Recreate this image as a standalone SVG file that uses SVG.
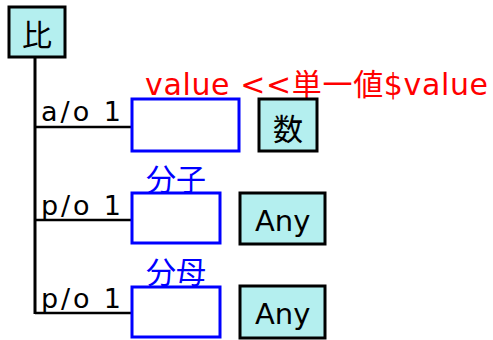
<svg xmlns="http://www.w3.org/2000/svg" width="493" height="340" viewBox="0 0 493 340">
<style>
.cls{fill:#b4efef;stroke:#000;stroke-width:3}
.slot{fill:#fff;stroke:#0000ff;stroke-width:3}
.t{font-family:"DejaVu Sans","Noto Sans CJK JP",sans-serif;fill:#000}
.cjk{font-family:"Noto Sans CJK JP",sans-serif}
.blue{fill:#0000ff}
.red{fill:#ff0000}
.ln{stroke:#000;fill:none}
</style>
<rect width="493" height="340" fill="#fff"/>
<g id="connectors">
<line class="ln" x1="35" y1="57" x2="35" y2="314" stroke-width="3"/>
<line class="ln" x1="35" y1="127" x2="132" y2="127" stroke-width="2.5"/>
<line class="ln" x1="35" y1="220" x2="132" y2="220" stroke-width="2.5"/>
<line class="ln" x1="35" y1="313" x2="132" y2="313" stroke-width="2.5"/>
<text class="t" x="41" y="121" font-size="27" textLength="80" lengthAdjust="spacing">a/o 1</text>
<text class="t" x="41" y="215" font-size="27" textLength="80" lengthAdjust="spacing">p/o 1</text>
<text class="t" x="41" y="308" font-size="27" textLength="80" lengthAdjust="spacing">p/o 1</text>
</g>
<g id="node-hi">
<rect class="cls" x="9" y="7" width="56" height="50"/>
<text class="t cjk" x="37" y="46" font-size="30" text-anchor="middle">比</text>
</g>
<g id="node-value">
<rect class="slot" x="132" y="99" width="107" height="52"/>
<text class="t red" x="145" y="95" font-size="30" textLength="343" lengthAdjust="spacing">value &lt;&lt;単一値$value</text>
</g>
<g id="node-kazu">
<rect class="cls" x="259" y="99" width="58" height="52"/>
<text class="t cjk" x="288" y="140" font-size="30" text-anchor="middle">数</text>
</g>
<g id="node-bunshi">
<rect class="slot" x="132" y="193" width="88" height="50"/>
<text class="t cjk blue" x="146" y="190" font-size="30" textLength="60" lengthAdjust="spacing">分子</text>
</g>
<g id="node-any1">
<rect class="cls" x="240" y="193" width="85" height="51"/>
<text class="t" x="255" y="231" font-size="29">Any</text>
</g>
<g id="node-bunbo">
<rect class="slot" x="132" y="287" width="88" height="50"/>
<text class="t cjk blue" x="146" y="283" font-size="30" textLength="60" lengthAdjust="spacing">分母</text>
</g>
<g id="node-any2">
<rect class="cls" x="240" y="286" width="85" height="52"/>
<text class="t" x="255" y="324" font-size="29">Any</text>
</g>
</svg>
